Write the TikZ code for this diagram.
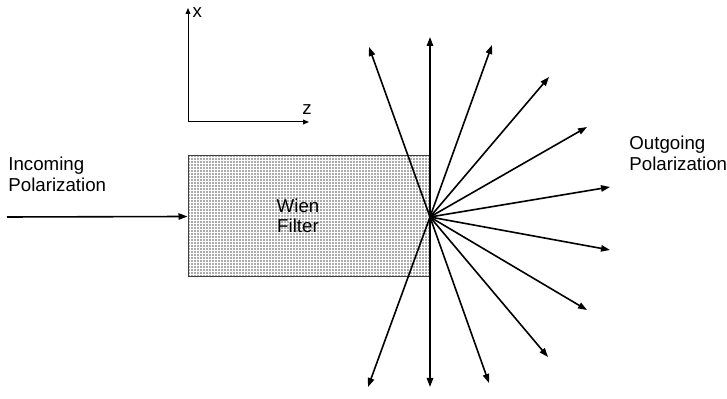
\documentclass[tikz,border=0pt]{standalone}
\usepackage{fontspec}
\setmainfont{Liberation Sans}
\usetikzlibrary{arrows.meta,patterns.meta}

\begin{document}
\begin{tikzpicture}[
  x=0.5pt, y=-0.5pt,
  font=\fontsize{9.35}{10.3}\selectfont,
  lbl/.style={inner sep=0pt, align=left},
  arr/.style={-{Triangle[length=4.5pt,width=3.2pt]}, line width=0.8pt},
  axis/.style={-{Triangle[length=3pt,width=2.4pt]}, line width=0.5pt},
  filterbox/.style={draw=black!75, line width=0.5pt, minimum width=121pt, minimum height=60.5pt,
    inner sep=0pt, preaction={fill=white},
    pattern={Dots[distance=1.5pt, radius=0.45pt]}, pattern color=black!65},
]
\useasboundingbox (0,0) rectangle (727,399);

% ---------- axes ----------
\coordinate (orig) at (188,122);
\coordinate (xend) at (188,8);
\coordinate (zend) at (309,122);
\draw[axis] (orig) -- (xend) node[anchor=south west, inner sep=0pt, xshift=2pt, yshift=-5pt] (xlbl) {x};
\draw[axis] (orig) -- (zend) node[anchor=south, inner sep=0pt, xshift=-1pt, yshift=3.5pt] (zlbl) {z};

% ---------- filter ----------
\node[filterbox] (filter) at (309,216.5) {};
\node[lbl, align=center, anchor=north] (wien) at (298,198.3) {Wien\\Filter};

% ---------- incoming ----------
\node[lbl, anchor=north west] (inlbl) at (8,156.6) {Incoming\\Polarization};
\coordinate (src) at (7,217);
\draw[arr] (src) -- (filter.west);

% ---------- outgoing ----------
\coordinate (hub) at (430,217);
\foreach \ex/\ey [count=\i] in {430/37, 430/387, 369/47, 368/387, 492/45, 549/77,
    587/127, 610/187, 610/250, 587/310, 548/357, 489/383} {
  \coordinate (tip\i) at (\ex,\ey);
  \draw[arr] (hub) -- (tip\i);
}
\node[lbl, anchor=north west] (outlbl) at (629,135.5) {Outgoing\\Polarization};
\end{tikzpicture}
\end{document}
